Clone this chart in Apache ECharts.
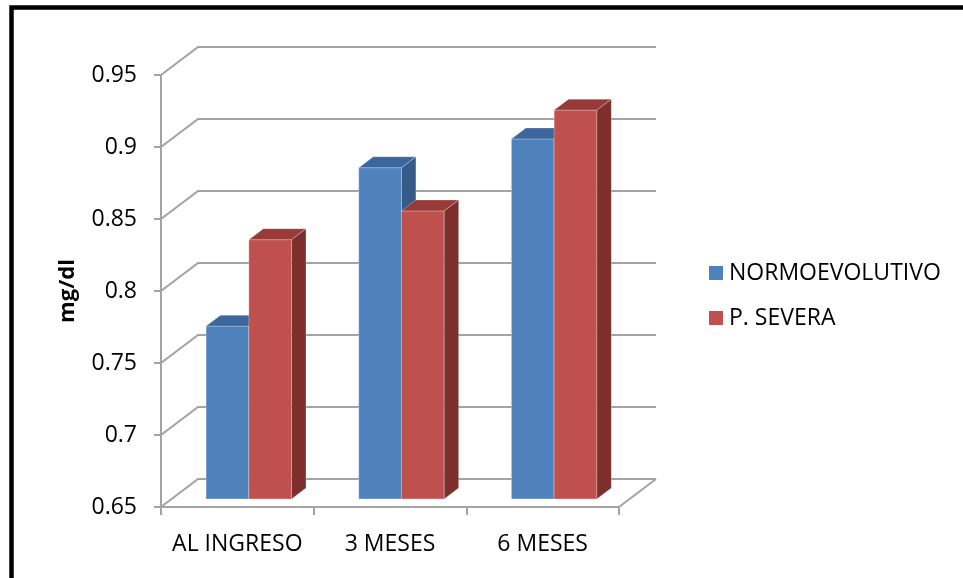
<!DOCTYPE html>
<html>
<head>
<meta charset="utf-8">
<script src="https://cdn.jsdelivr.net/npm/echarts@6/dist/echarts.min.js"></script>
<style>
  html, body { margin: 0; padding: 0; background: #fff; }
  #chart { width: 963px; height: 578px; }
</style>
</head>
<body>
<div id="chart"></div>
<script>
// Creatinine follow-up by group (mg/dl)
const categories = ['AL INGRESO', '3 MESES', '6 MESES'];
const normoevolutivo = [0.77, 0.88, 0.90];
const pSevera = [0.83, 0.85, 0.92];
const seriesNames = ['NORMOEVOLUTIVO', 'P. SEVERA'];
const yTicks = [0.65, 0.7, 0.75, 0.8, 0.85, 0.9, 0.95];
const Y_MIN = 0.65, Y_MAX = 0.95, Y_STEP = 0.05;

// 3D look: depth of the floor/walls and placement of the bars inside it
const DEPTH_X = 37, DEPTH_Y = -28;
const BAR_FRONT = 0.29, BAR_DEPTH = 0.39;
const BAR_START = 0.225, BAR_WIDTH = 0.28;
const GRID_COLOR = '#a3a3a3';
const FONT = '"Open Sans", sans-serif';
const FONT_SIZE = 23;

const faces = [
  { front: '#4f81bd', top: '#3d679c', side: '#375b88' },
  { front: '#c0504d', top: '#983a38', side: '#7c2f2d' }
];

function wallItem(params, api) {
  const cs = params.coordSys;
  const p = api.coord([0, api.value(1)]);
  const y = p[1];
  const left = cs.x, right = cs.x + cs.width;
  const children = [{
    type: 'polyline',
    shape: { points: [[left, y], [left + DEPTH_X, y + DEPTH_Y], [right + DEPTH_X, y + DEPTH_Y]] },
    style: { stroke: GRID_COLOR, lineWidth: 2, fill: null }
  }];
  if (params.dataIndex === 0) {
    children.push({
      type: 'line',
      shape: { x1: right, y1: y, x2: right + DEPTH_X, y2: y + DEPTH_Y },
      style: { stroke: GRID_COLOR, lineWidth: 2 }
    });
  }
  return { type: 'group', children };
}

function barRenderer(seriesIdx) {
  const c = faces[seriesIdx];
  return function (params, api) {
    const idx = api.value(0);
    const val = api.value(1);
    const topPt = api.coord([idx, val]);
    const basePt = api.coord([idx, Y_MIN]);
    const band = api.size([1, 0])[0];
    const fx = DEPTH_X * BAR_FRONT, fy = DEPTH_Y * BAR_FRONT;
    const bx = DEPTH_X * BAR_DEPTH, by = DEPTH_Y * BAR_DEPTH;
    const w = band * BAR_WIDTH;
    const x0 = topPt[0] - band / 2 + band * (BAR_START + seriesIdx * BAR_WIDTH) + fx;
    const yt = topPt[1] + fy;
    const yb = basePt[1] + fy;
    const edge = 'rgba(255,255,255,0.35)';
    return {
      type: 'group',
      children: [
        {
          type: 'rect',
          shape: { x: x0, y: yt, width: w, height: yb - yt },
          style: { fill: c.front, stroke: edge, lineWidth: 0.8 }
        },
        {
          type: 'polygon',
          shape: { points: [[x0, yt], [x0 + w, yt], [x0 + w + bx, yt + by], [x0 + bx, yt + by]] },
          style: { fill: c.top, stroke: edge, lineWidth: 0.8 }
        },
        {
          type: 'polygon',
          shape: { points: [[x0 + w, yt], [x0 + w + bx, yt + by], [x0 + w + bx, yb + by], [x0 + w, yb]] },
          style: { fill: c.side, stroke: edge, lineWidth: 0.8 }
        }
      ]
    };
  };
}

const chart = echarts.init(document.getElementById('chart'), null, { renderer: 'canvas' });

chart.setOption({
  backgroundColor: '#fff',
  animation: false,
  textStyle: { fontFamily: FONT },
  graphic: [
    {
      type: 'rect',
      shape: { x: 11.5, y: 7.5, width: 1000, height: 700 },
      style: { fill: null, stroke: '#000', lineWidth: 4.5 },
      silent: true
    }
  ],
  legend: {
    orient: 'vertical',
    left: 704,
    top: 255,
    icon: 'rect',
    itemWidth: 14,
    itemHeight: 14,
    itemGap: 19,
    data: seriesNames,
    textStyle: { fontFamily: FONT, fontSize: FONT_SIZE, color: '#000', lineHeight: 26, padding: [0, 0, 0, 1] }
  },
  grid: { left: 161, top: 75, width: 458, height: 432, containLabel: false },
  xAxis: {
    type: 'category',
    data: categories,
    axisLine: { show: true, lineStyle: { color: GRID_COLOR, width: 2 } },
    axisTick: { show: true, interval: 0, length: 8, lineStyle: { color: GRID_COLOR, width: 2 } },
    axisLabel: { interval: 0, color: '#000', fontFamily: FONT, fontSize: FONT_SIZE, margin: 26 },
    splitLine: { show: false }
  },
  yAxis: {
    type: 'value',
    min: Y_MIN,
    max: Y_MAX,
    interval: Y_STEP,
    name: 'mg/dl',
    nameLocation: 'middle',
    nameRotate: 90,
    nameGap: 82,
    nameTextStyle: { color: '#000', fontFamily: FONT, fontSize: FONT_SIZE - 1, fontWeight: 'bold' },
    axisLine: { show: true, lineStyle: { color: GRID_COLOR, width: 2 } },
    axisTick: { show: true, length: 7, lineStyle: { color: GRID_COLOR, width: 2 } },
    axisLabel: { color: '#000', fontFamily: FONT, fontSize: FONT_SIZE, margin: 24 },
    splitLine: { show: false }
  },
  series: [
    {
      name: 'walls',
      type: 'custom',
      renderItem: wallItem,
      data: yTicks.map(v => [0, v]),
      clip: false,
      silent: true,
      z: 1,
      legendHoverLink: false
    },
    {
      name: seriesNames[0],
      type: 'custom',
      renderItem: barRenderer(0),
      itemStyle: { color: faces[0].front },
      data: normoevolutivo.map((v, i) => [i, v]),
      clip: false,
      z: 3
    },
    {
      name: seriesNames[1],
      type: 'custom',
      renderItem: barRenderer(1),
      itemStyle: { color: faces[1].front },
      data: pSevera.map((v, i) => [i, v]),
      clip: false,
      z: 4
    }
  ]
});
</script>
</body>
</html>
